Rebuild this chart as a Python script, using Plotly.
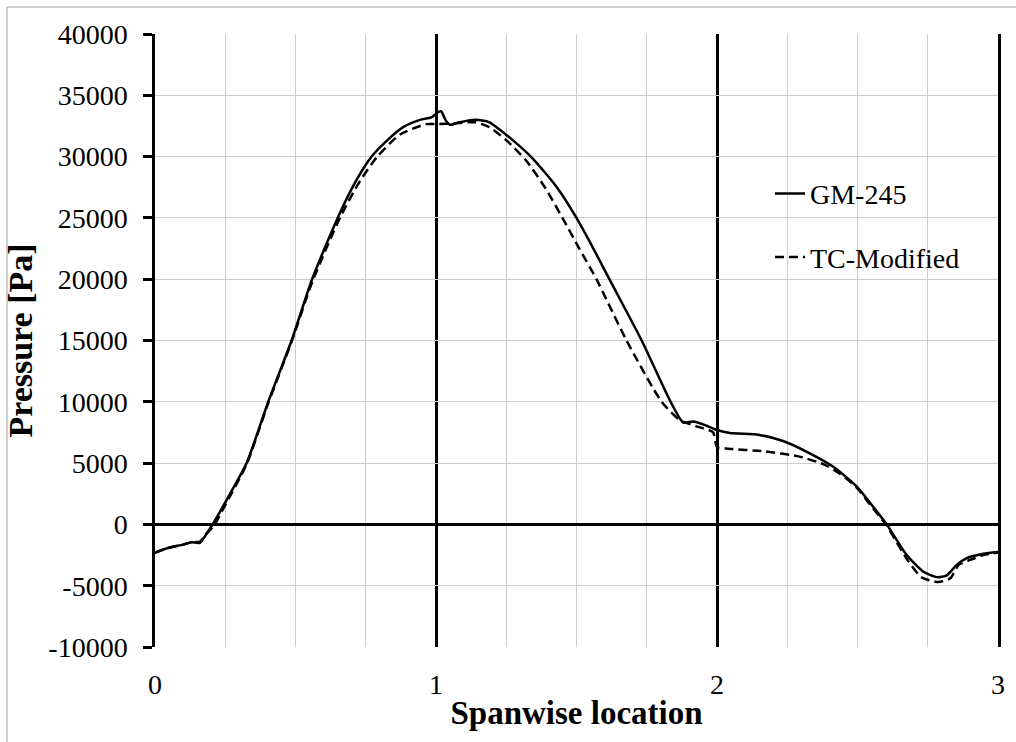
import plotly.graph_objects as go

# GM-245 (solid)
gm_x = [0, 0.05, 0.1, 0.13, 0.16, 0.185, 0.205, 0.255, 0.326, 0.403, 0.486, 0.559,
        0.65, 0.71, 0.771, 0.83, 0.883, 0.943, 0.983, 1.006, 1.018, 1.036,
        1.05, 1.085, 1.14, 1.19, 1.275, 1.346, 1.43, 1.5, 1.56, 1.617, 1.732, 1.835,
        1.88, 1.916, 1.963, 2.0, 2.046, 2.15, 2.235, 2.33, 2.414, 2.497, 2.545, 2.604,
        2.675, 2.734, 2.782, 2.818, 2.853, 2.889, 2.948, 3.0]
gm_y = [-2300, -1900, -1650, -1450, -1500, -700, 0, 2000, 5000, 10000, 15000, 20000,
        25000, 27800, 30000, 31400, 32400, 33000, 33200, 33600, 33700, 32900,
        32600, 32800, 33000, 32800, 31300, 29800, 27500, 25000, 22500, 20000, 15000, 10000,
        8300, 8400, 8050, 7700, 7450, 7300, 6800, 5800, 4700, 3100, 1750, 0,
        -2500, -3850, -4300, -4150, -3300, -2750, -2400, -2250]

# TC-Modified (dashed)
tc_x = [0, 0.05, 0.1, 0.13, 0.16, 0.184, 0.213, 0.225, 0.255, 0.326, 0.403, 0.486,
        0.56, 0.658, 0.724, 0.791, 0.872, 0.965, 1.01, 1.06, 1.14, 1.19, 1.252,
        1.32, 1.39, 1.45, 1.51, 1.571, 1.678, 1.803, 1.868, 1.927, 1.986, 2.0, 2.03,
        2.17, 2.29, 2.38, 2.44, 2.497, 2.545, 2.604, 2.675, 2.727, 2.788, 2.83, 2.86,
        2.9, 2.948, 3.0]
tc_y = [-2300, -1900, -1650, -1450, -1400, -750, 0, 500, 1800, 4900, 9900, 14900,
        19800, 25000, 27800, 30000, 31800, 32650, 32650, 32700, 32800, 32400, 31300,
        29700, 27400, 25000, 22500, 20000, 15000, 10000, 8500, 8000, 7500, 6300, 6200,
        5950, 5550, 4900, 4100, 3000, 1600, -100, -2800, -4300, -4700, -4400, -3300,
        -2900, -2500, -2300]

x_ticks = [0, 1, 2, 3]
y_ticks = [-10000, -5000, 0, 5000, 10000, 15000, 20000, 25000, 30000, 35000, 40000]

FONT = "Liberation Serif"

fig = go.Figure()
fig.add_trace(go.Scatter(x=gm_x, y=gm_y, mode="lines", name="GM-245",
                         legendgroup="a",
                         line=dict(color="black", width=2.5, shape="spline", smoothing=0.6)))
fig.add_trace(go.Scatter(x=tc_x, y=tc_y, mode="lines", name="TC-Modified",
                         legendgroup="b",
                         line=dict(color="black", width=2.5, dash="9px,5px",
                                   shape="spline", smoothing=0.6)))

fig.update_layout(
    width=1016, height=742,
    margin=dict(l=155, r=18, t=34, b=95),
    paper_bgcolor="white", plot_bgcolor="white",
    font=dict(family=FONT, color="black", size=28),
    showlegend=True,
    legend=dict(x=0.7295, y=0.78, xanchor="left", yanchor="top",
                bgcolor="rgba(0,0,0,0)", font=dict(family=FONT, size=28, color="black"),
                tracegroupgap=24, itemwidth=30),
    xaxis=dict(range=[0, 3], tickvals=x_ticks, ticktext=[str(v) for v in x_ticks],
               showgrid=True, gridcolor="black", gridwidth=2.5,
               minor=dict(dtick=0.25, showgrid=True, gridcolor="#cccccc", gridwidth=1),
               zeroline=False, showline=False,
               ticks="outside", ticklen=12, tickcolor="rgba(0,0,0,0)",
               tickfont=dict(family=FONT, size=28),
               title=dict(text="<b>Spanwise location</b>", font=dict(family=FONT, size=33),
                          standoff=2)),
    yaxis=dict(range=[-10000, 40000], tickvals=y_ticks, ticktext=[str(v) for v in y_ticks],
               showgrid=True, gridcolor="#cccccc", gridwidth=1,
               zeroline=True, zerolinecolor="black", zerolinewidth=2.5,
               showline=True, linecolor="black", linewidth=2.5, mirror=True,
               ticks="outside", ticklen=9, tickwidth=2.5, tickcolor="black",
               ticklabelstandoff=10,
               tickfont=dict(family=FONT, size=28),
               title=dict(text="<b>Pressure [Pa]</b>", font=dict(family=FONT, size=34),
                          standoff=6)),
    shapes=[dict(type="rect", xref="paper", yref="paper",
                 x0=(7 - 155) / 843, x1=(1030 - 155) / 843,
                 y0=(647 - 760) / 613, y1=(647 - 7) / 613,
                 line=dict(color="#a0a0a0", width=1), fillcolor="rgba(0,0,0,0)", layer="below")],
)

fig.write_html("out.html")
